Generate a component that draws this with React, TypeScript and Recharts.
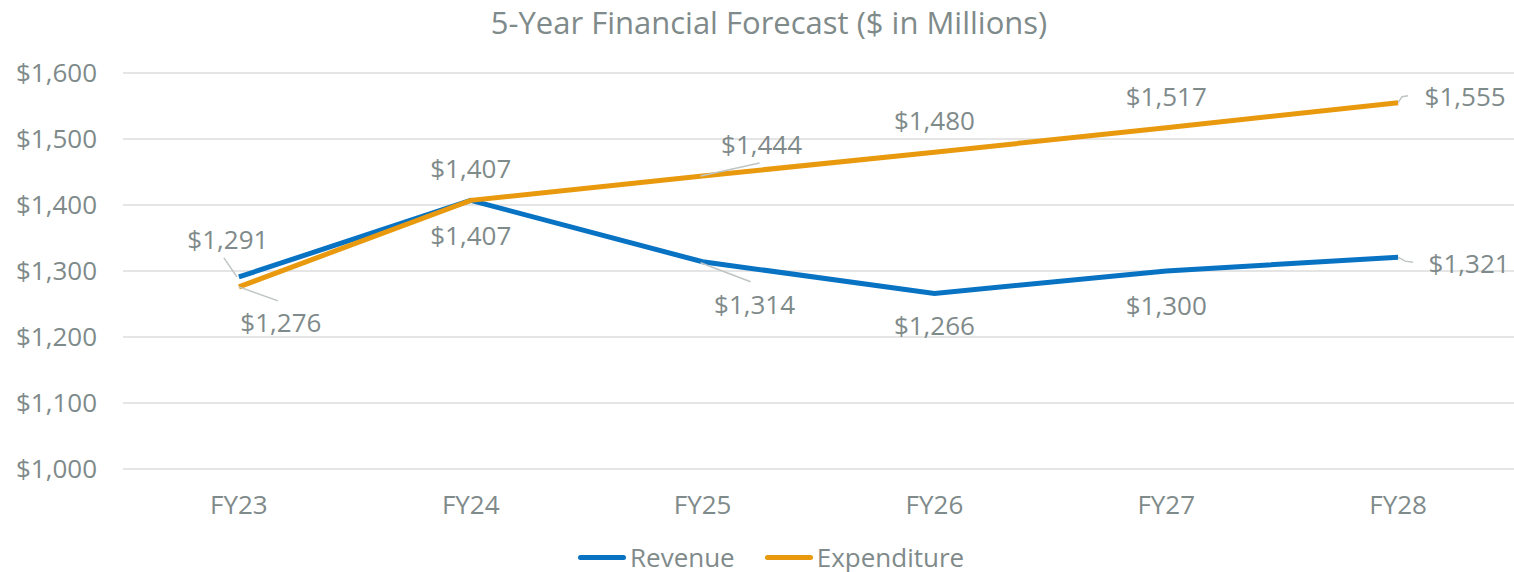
import { LineChart, Line, XAxis, YAxis, CartesianGrid, LabelList } from "recharts";

const years = ["FY23", "FY24", "FY25", "FY26", "FY27", "FY28"];
const revenue = [1291, 1407, 1314, 1266, 1300, 1321];
const expenditure = [1276, 1407, 1444, 1480, 1517, 1555];
const yTicks = [1000, 1100, 1200, 1300, 1400, 1500, 1600];

const data = years.map((year, i) => ({ year, revenue: revenue[i], expenditure: expenditure[i] }));

const INK = "#7f8a8a";
const FONT = "'Open Sans', sans-serif";
const BLUE = "#0872c3";
const ORANGE = "#e8990e";

type Placement = { dx: number; dy: number; leader?: [number, number][] };

// label placement relative to each point (Excel-style manual labels)
const revPlace: Placement[] = [
  { dx: -11, dy: -38, leader: [[-15, -19], [-2, 0]] },
  { dx: 0, dy: 35 },
  { dx: 52, dy: 42, leader: [[-2, 1], [48, 20]] },
  { dx: 0, dy: 32 },
  { dx: 0, dy: 34 },
  { dx: 71, dy: 6, leader: [[0, 0], [7, 4], [15, 5]] },
];
const expPlace: Placement[] = [
  { dx: 42, dy: 35, leader: [[0, 0], [39, 14]] },
  { dx: 0, dy: -32 },
  { dx: 59, dy: -32, leader: [[-2, 0], [57, -13]] },
  { dx: 0, dy: -32 },
  { dx: 0, dy: -32 },
  { dx: 67, dy: -7, leader: [[0, 0], [4, -6], [10, -7]] },
];

const money = (v: number) => `$${v.toLocaleString("en-US")}`;

function makeLabel(place: Placement[]) {
  return (props: any) => {
    const { x, y, index, value } = props;
    const p = place[index];
    if (!p) return null;
    return (
      <g>
        {p.leader && (
          <polyline
            points={p.leader.map(([a, b]) => `${x + a},${y + b}`).join(" ")}
            fill="none"
            stroke="#bfc4c4"
            strokeWidth={1.5}
          />
        )}
        <text
          x={x + p.dx}
          y={y + p.dy}
          textAnchor="middle"
          dominantBaseline="central"
          fill={INK}
          fontSize={26}
          fontFamily={FONT}
        >
          {money(value)}
        </text>
      </g>
    );
  };
}

function LegendItem({ color, label }: { color: string; label: string }) {
  return (
    <div style={{ display: "flex", alignItems: "center" }}>
      <span style={{ width: 48, height: 5, borderRadius: 3, background: color, marginRight: 4 }} />
      <span>{label}</span>
    </div>
  );
}

export default function App() {
  return (
    <div style={{ position: "absolute", left: 0, top: 0, width: 1514, height: 572, background: "#fff", fontFamily: FONT }}>
      <div
        style={{
          position: "absolute",
          top: 2,
          left: 0,
          width: 1538,
          textAlign: "center",
          fontSize: 31,
          color: INK,
          lineHeight: "40px",
        }}
      >
        5-Year Financial Forecast ($ in Millions)
      </div>
      <LineChart width={1514} height={572} data={data} margin={{ top: 73, right: 0, bottom: 43, left: 0 }}>
        <CartesianGrid vertical={false} stroke="#dcdcdc" strokeWidth={1.5} />
        <XAxis
          dataKey="year"
          axisLine={false}
          tickLine={false}
          height={60}
          padding={{ left: 115.9, right: 115.9 }}
          tickMargin={21}
          tick={{ fill: INK, fontSize: 26, fontFamily: FONT }}
        />
        <YAxis
          width={123}
          domain={[1000, 1600]}
          ticks={yTicks}
          axisLine={false}
          tickLine={false}
          tickMargin={20}
          tickFormatter={money}
          tick={{ fill: INK, fontSize: 26, fontFamily: FONT }}
        />
        <Line dataKey="revenue" stroke={BLUE} strokeWidth={5} dot={false} isAnimationActive={false}>
          <LabelList dataKey="revenue" content={makeLabel(revPlace)} />
        </Line>
        <Line dataKey="expenditure" stroke={ORANGE} strokeWidth={5} dot={false} isAnimationActive={false}>
          <LabelList dataKey="expenditure" content={makeLabel(expPlace)} />
        </Line>
      </LineChart>
      <div
        style={{
          position: "absolute",
          top: 539,
          left: 578,
          display: "flex",
          gap: 30,
          fontSize: 26,
          color: INK,
          lineHeight: "36px",
        }}
      >
        <LegendItem color={BLUE} label="Revenue" />
        <LegendItem color={ORANGE} label="Expenditure" />
      </div>
    </div>
  );
}
